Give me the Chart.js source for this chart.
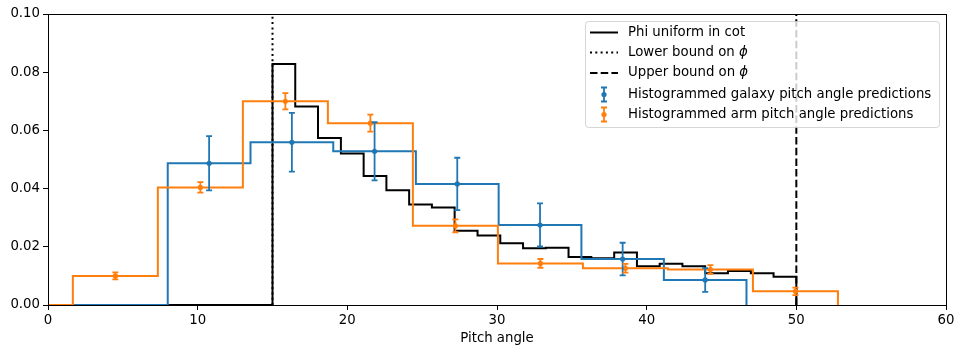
<!DOCTYPE html>
<html>
<head>
<meta charset="utf-8">
<script src="https://cdn.jsdelivr.net/npm/chart.js@4.4.1/dist/chart.umd.min.js"></script>
<style>
  html, body { margin: 0; padding: 0; background: #fff; }
  #chart { display: block; }
</style>
</head>
<body>
<canvas id="chart" width="964" height="356"></canvas>
<script>
// ---- data ----
const cotEdges = [15.00, 16.52, 18.04, 19.57, 21.09, 22.61, 24.13, 25.65, 27.17, 28.70, 30.22, 31.74,
  33.26, 34.78, 36.30, 37.83, 39.35, 40.87, 42.39, 43.91, 45.43, 46.96, 48.48, 50.00];
const cotValues = [0.0828, 0.0682, 0.0574, 0.0521, 0.0443, 0.0394, 0.0345, 0.0335, 0.0255, 0.0239, 0.0212,
  0.0195, 0.0197, 0.0165, 0.0161, 0.0180, 0.0133, 0.0142, 0.0133, 0.0109, 0.0117, 0.0109, 0.0097];

const galaxyEdges = [8.00, 13.53, 19.06, 24.58, 30.11, 35.64, 41.15, 46.67];
const galaxyValues = [0.0487, 0.0559, 0.0528, 0.0416, 0.0275, 0.0158, 0.0086];
const galaxyErrors = [0.0093, 0.0101, 0.0100, 0.0090, 0.0074, 0.0056, 0.0041];

const armEdges = [1.66, 7.34, 13.02, 18.70, 24.38, 30.06, 35.74, 41.42, 47.10, 52.78];
const armValues = [0.0100, 0.0404, 0.0700, 0.0625, 0.0272, 0.0143, 0.0126, 0.0122, 0.0047];
const armErrors = [0.0012, 0.0018, 0.0028, 0.0029, 0.0022, 0.0015, 0.0015, 0.0015, 0.0013];

const lowerBound = 15;
const upperBound = 50;
const xTicks = [0, 10, 20, 30, 40, 50, 60];
const yTicks = [0.00, 0.02, 0.04, 0.06, 0.08, 0.10];

const BLUE = '#1f77b4';
const ORANGE = '#ff7f0e';
const FONT = "'DejaVu Sans', sans-serif";
const FS = 13.3;

// histogram outline as step points: 0 before first edge, back to 0 at last edge
function stepPoints(edges, values) {
  const pts = [{ x: 0, y: 0 }];
  values.forEach((v, i) => pts.push({ x: edges[i], y: v }));
  pts.push({ x: edges[edges.length - 1], y: 0 });
  return pts;
}
function centerPoints(edges, values) {
  return values.map((v, i) => ({ x: (edges[i] + edges[i + 1]) / 2, y: v }));
}

// error bars + frame + legend
const extras = {
  id: 'extras',
  afterDatasetsDraw(chart) {
    const { ctx, scales: { x, y } } = chart;
    chart.data.datasets.forEach((ds) => {
      if (!ds.errors) return;
      ctx.save();
      ctx.strokeStyle = ds.borderColor;
      ctx.lineWidth = 1.8;
      ds.data.forEach((p, i) => {
        const px = x.getPixelForValue(p.x);
        const top = y.getPixelForValue(p.y + ds.errors[i]);
        const bot = y.getPixelForValue(p.y - ds.errors[i]);
        ctx.beginPath();
        ctx.moveTo(px, top); ctx.lineTo(px, bot);
        ctx.moveTo(px - 3, top); ctx.lineTo(px + 3, top);
        ctx.moveTo(px - 3, bot); ctx.lineTo(px + 3, bot);
        ctx.stroke();
      });
      ctx.restore();
    });
  },
  afterDraw(chart) {
    const { ctx, chartArea: a } = chart;
    ctx.save();
    ctx.strokeStyle = '#000';
    ctx.lineWidth = 1;
    ctx.strokeRect(a.left + 0.5, a.top + 0.5, a.right - a.left, a.bottom - a.top);

    // legend box
    const lx = 585.5, ly = 21.5, lw = 354, lh = 106;
    ctx.beginPath();
    ctx.roundRect(lx, ly, lw, lh, 3);
    ctx.fillStyle = 'rgba(255,255,255,0.8)';
    ctx.fill();
    ctx.strokeStyle = 'rgba(204,204,204,0.8)';
    ctx.stroke();

    const rows = [32.5, 52.5, 73, 94.5, 114.5];
    const sx0 = 590, sx1 = 618, tx = 628;
    ctx.lineWidth = 2;
    ctx.strokeStyle = '#000';
    [[], [2, 3.3], [7.5, 3.2]].forEach((dash, i) => {
      ctx.setLineDash(dash);
      ctx.beginPath();
      ctx.moveTo(sx0, rows[i]); ctx.lineTo(sx1, rows[i]);
      ctx.stroke();
    });
    ctx.setLineDash([]);
    [BLUE, ORANGE].forEach((c, i) => {
      const cy = rows[3 + i], cx = 604;
      ctx.strokeStyle = c; ctx.fillStyle = c; ctx.lineWidth = 1.8;
      ctx.beginPath();
      ctx.moveTo(cx, cy - 7); ctx.lineTo(cx, cy + 7);
      ctx.moveTo(cx - 3, cy - 7); ctx.lineTo(cx + 3, cy - 7);
      ctx.moveTo(cx - 3, cy + 7); ctx.lineTo(cx + 3, cy + 7);
      ctx.stroke();
      ctx.beginPath(); ctx.arc(cx, cy, 2.6, 0, Math.PI * 2); ctx.fill();
    });

    ctx.fillStyle = '#000';
    ctx.textBaseline = 'middle';
    ctx.font = FS + 'px ' + FONT;
    ctx.fillText('Phi uniform in cot', tx, rows[0]);
    ['Lower bound on ', 'Upper bound on '].forEach((t, i) => {
      ctx.font = FS + 'px ' + FONT;
      ctx.fillText(t, tx, rows[1 + i]);
      const w = ctx.measureText(t).width;
      ctx.font = 'italic ' + FS + 'px ' + FONT;
      ctx.fillText('\u03D5', tx + w, rows[1 + i]);
    });
    ctx.font = FS + 'px ' + FONT;
    ctx.fillText('Histogrammed galaxy pitch angle predictions', tx, rows[3]);
    ctx.fillText('Histogrammed arm pitch angle predictions', tx, rows[4]);
    ctx.restore();
  }
};

const lineDefaults = { showLine: true, pointRadius: 0, fill: false, borderWidth: 2 };

new Chart(document.getElementById('chart'), {
  type: 'scatter',
  data: {
    datasets: [
      { ...lineDefaults, label: 'Phi uniform in cot', data: stepPoints(cotEdges, cotValues),
        stepped: 'before', borderColor: '#000', order: 6 },
      { ...lineDefaults, label: 'Lower bound', data: [{ x: lowerBound, y: 0 }, { x: lowerBound, y: 0.1 }],
        borderColor: '#000', borderDash: [2, 3.3], order: 7 },
      { ...lineDefaults, label: 'Upper bound', data: [{ x: upperBound, y: 0 }, { x: upperBound, y: 0.1 }],
        borderColor: '#000', borderDash: [7.5, 3.2], order: 5 },
      { ...lineDefaults, label: 'galaxy hist', data: stepPoints(galaxyEdges, galaxyValues),
        stepped: 'before', borderColor: BLUE, order: 4 },
      { ...lineDefaults, label: 'arm hist', data: stepPoints(armEdges, armValues),
        stepped: 'before', borderColor: ORANGE, order: 3 },
      { label: 'Histogrammed galaxy pitch angle predictions', data: centerPoints(galaxyEdges, galaxyValues),
        errors: galaxyErrors, showLine: false, pointRadius: 2.6, borderWidth: 0,
        backgroundColor: BLUE, borderColor: BLUE, order: 2 },
      { label: 'Histogrammed arm pitch angle predictions', data: centerPoints(armEdges, armValues),
        errors: armErrors, showLine: false, pointRadius: 2.6, borderWidth: 0,
        backgroundColor: ORANGE, borderColor: ORANGE, order: 1 }
    ]
  },
  options: {
    responsive: false,
    animation: false,
    devicePixelRatio: 1,
    layout: { padding: { top: 14, right: 18, left: 0, bottom: 0 } },
    plugins: { legend: { display: false }, tooltip: { enabled: false } },
    scales: {
      x: {
        type: 'linear', min: 0, max: 60,
        afterFit: (s) => { s.height = 51; },
        afterBuildTicks: (s) => { s.ticks = xTicks.map(v => ({ value: v })); },
        border: { display: false },
        grid: { drawOnChartArea: false, drawTicks: true, tickLength: 5, color: '#000', tickColor: '#000' },
        ticks: { color: '#000', font: { family: FONT, size: FS }, padding: 3, maxRotation: 0 },
        title: { display: true, text: 'Pitch angle', color: '#000', font: { family: FONT, size: FS },
          padding: { top: 0, bottom: 9 } }
      },
      y: {
        type: 'linear', min: 0, max: 0.1,
        afterFit: (s) => { s.width = 48; },
        afterBuildTicks: (s) => { s.ticks = yTicks.map(v => ({ value: v })); },
        border: { display: false },
        grid: { drawOnChartArea: false, drawTicks: true, tickLength: 5, color: '#000', tickColor: '#000' },
        ticks: { color: '#000', font: { family: FONT, size: FS }, padding: 3,
          callback: (v) => Number(v).toFixed(2) }
      }
    }
  },
  plugins: [extras]
});
</script>
</body>
</html>
